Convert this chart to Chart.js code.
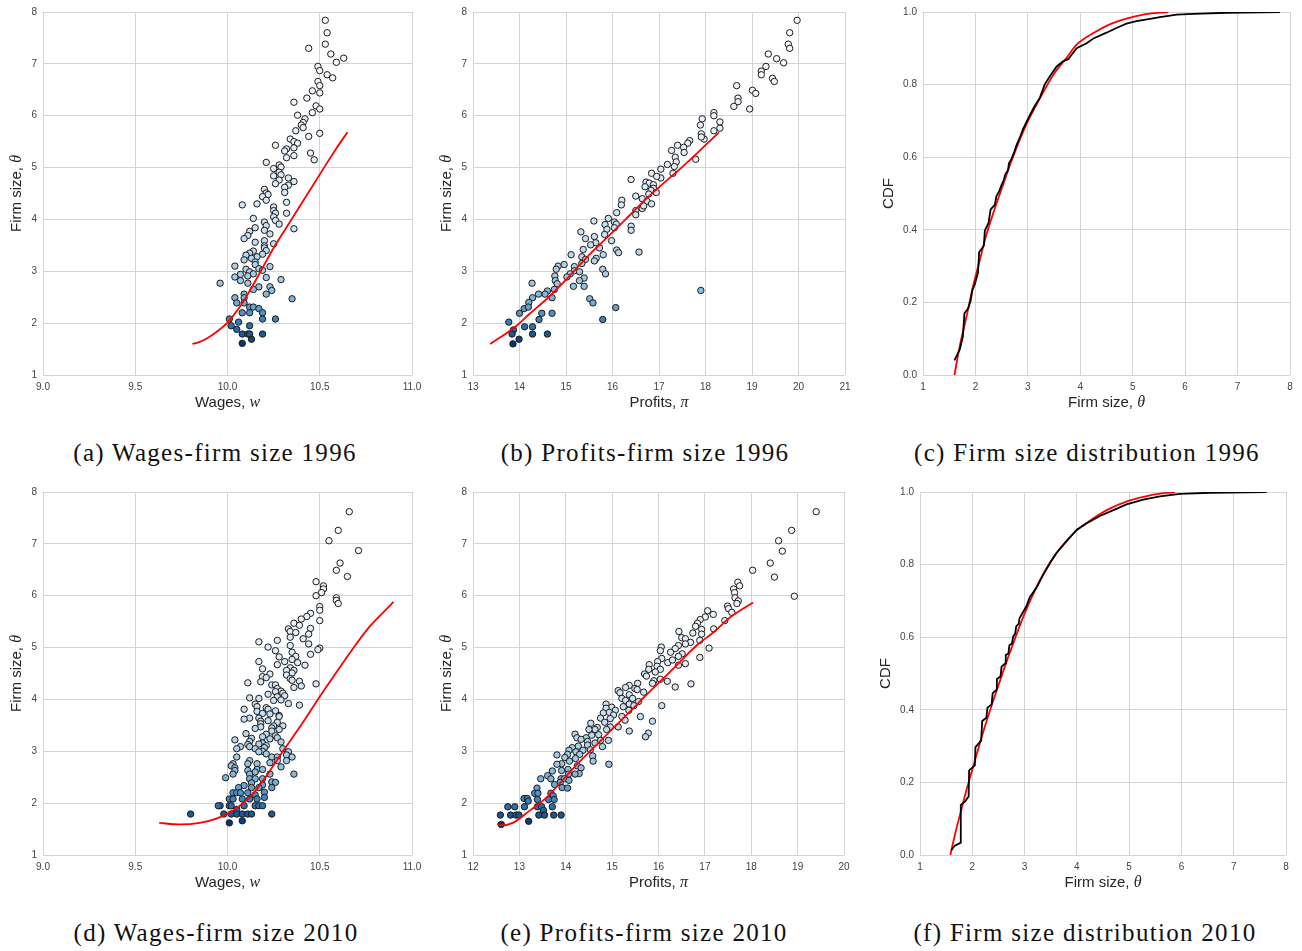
<!DOCTYPE html>
<html>
<head>
<meta charset="utf-8">
<script src="https://cdn.jsdelivr.net/npm/chart.js@4.4.1/dist/chart.umd.min.js"></script>
<style>
  body { margin: 0; background: #fff; width: 1302px; height: 951px; position: relative; overflow: hidden; }
  canvas { position: absolute; }
  .cap { position: absolute; font: 25px "Liberation Serif", serif; letter-spacing: 1.3px; line-height: 28px;
         white-space: nowrap; transform: translateX(-50%); color: #111; }
</style>
</head>
<body>
<script>
// ---- data ----
// (a) wages vs firm size 1996: [wage, size]
const wagesFirm1996 = [[10.53,7.84],[10.54,7.60],[10.53,7.38],[10.44,7.30],[10.56,7.19],[10.63,7.11],[10.59,7.03],[10.49,6.95],[10.50,6.87],[10.54,6.79],[10.57,6.73],[10.49,6.66],[10.50,6.58],[10.46,6.48],[10.50,6.44],[10.43,6.34],[10.36,6.26],[10.48,6.19],[10.50,6.13],[10.46,6.06],[10.38,6.01],[10.42,5.94],[10.41,5.87],[10.40,5.82],[10.41,5.77],[10.37,5.71],[10.50,5.66],[10.44,5.60],[10.34,5.55],[10.36,5.50],[10.38,5.47],[10.26,5.43],[10.36,5.38],[10.32,5.36],[10.31,5.32],[10.45,5.28],[10.36,5.23],[10.32,5.19],[10.47,5.15],[10.21,5.10],[10.28,5.05],[10.29,5.01],[10.25,4.98],[10.28,4.91],[10.29,4.86],[10.25,4.84],[10.33,4.80],[10.28,4.76],[10.36,4.73],[10.26,4.69],[10.33,4.66],[10.31,4.62],[10.20,4.58],[10.31,4.52],[10.21,4.51],[10.22,4.48],[10.19,4.44],[10.21,4.37],[10.32,4.33],[10.16,4.30],[10.08,4.28],[10.25,4.24],[10.25,4.17],[10.26,4.12],[10.32,4.12],[10.25,4.05],[10.14,4.02],[10.26,3.98],[10.20,3.95],[10.28,3.91],[10.21,3.88],[10.15,3.84],[10.36,3.82],[10.20,3.79],[10.12,3.77],[10.23,3.72],[10.11,3.69],[10.09,3.63],[10.20,3.59],[10.15,3.56],[10.25,3.53],[10.20,3.49],[10.20,3.45],[10.21,3.40],[10.14,3.39],[10.12,3.35],[10.19,3.33],[10.10,3.31],[10.16,3.28],[10.13,3.25],[10.09,3.22],[10.15,3.18],[10.15,3.13],[10.23,3.09],[10.04,3.10],[10.17,3.05],[10.10,3.04],[10.19,3.02],[10.12,2.99],[10.07,2.94],[10.14,2.95],[10.04,2.89],[10.11,2.91],[10.21,2.88],[10.07,2.82],[10.29,2.84],[9.96,2.77],[10.11,2.77],[10.23,2.70],[10.17,2.70],[10.14,2.65],[10.24,2.63],[10.21,2.56],[10.09,2.56],[10.04,2.49],[10.35,2.47],[10.09,2.49],[10.05,2.39],[10.09,2.39],[10.12,2.31],[10.14,2.31],[10.17,2.28],[10.08,2.20],[10.12,2.20],[10.19,2.20],[10.01,2.08],[10.19,2.08],[10.26,2.08],[10.06,2.02],[10.02,1.95],[10.12,1.95],[10.05,1.88],[10.08,1.79],[10.11,1.79],[10.12,1.79],[10.19,1.79],[10.13,1.69],[10.08,1.61]];
const wagesFit1996 = [[9.81,1.60],[9.85,1.64],[9.89,1.71],[9.94,1.83],[10.00,2.01],[10.03,2.14],[10.07,2.33],[10.11,2.56],[10.18,3.00],[10.25,3.45],[10.34,3.96],[10.43,4.47],[10.52,4.98],[10.59,5.37],[10.65,5.68]];

// (b) profits vs firm size 1996: [profit, size]
const profitsFirm1996 = [[19.97,7.84],[19.81,7.60],[19.78,7.38],[19.81,7.30],[19.35,7.19],[19.53,7.10],[19.68,7.02],[19.30,6.95],[19.20,6.86],[19.20,6.79],[19.44,6.72],[19.48,6.66],[18.67,6.58],[19.01,6.49],[19.08,6.43],[18.70,6.34],[18.70,6.27],[18.61,6.18],[18.95,6.13],[18.18,6.06],[18.18,6.00],[17.93,5.94],[18.31,5.88],[17.89,5.82],[18.31,5.76],[18.18,5.71],[17.91,5.65],[17.97,5.55],[17.91,5.59],[17.66,5.52],[17.62,5.47],[17.40,5.43],[17.53,5.39],[17.27,5.33],[17.54,5.29],[17.35,5.20],[17.79,5.16],[17.37,5.11],[17.18,5.06],[17.33,5.02],[17.04,4.97],[17.30,4.89],[16.84,4.89],[17.04,4.80],[16.95,4.83],[16.40,4.77],[16.72,4.72],[16.79,4.70],[16.88,4.67],[16.70,4.63],[16.88,4.60],[16.83,4.56],[16.94,4.52],[16.78,4.49],[16.50,4.45],[16.64,4.40],[16.20,4.37],[16.74,4.35],[16.84,4.30],[16.19,4.28],[16.64,4.21],[16.67,4.26],[16.50,4.17],[16.09,4.13],[16.50,4.09],[15.91,4.02],[15.60,3.97],[16.04,3.95],[16.08,3.91],[15.84,3.90],[16.40,3.87],[16.04,3.84],[15.88,3.81],[16.40,3.79],[15.32,3.76],[15.83,3.71],[15.61,3.67],[15.42,3.63],[15.98,3.59],[15.64,3.55],[15.53,3.51],[15.72,3.45],[15.37,3.42],[16.09,3.41],[16.57,3.37],[16.13,3.36],[15.11,3.32],[15.80,3.32],[15.34,3.28],[15.65,3.25],[15.42,3.23],[15.61,3.20],[15.34,3.15],[14.96,3.13],[14.83,3.10],[15.18,3.09],[14.79,3.04],[15.79,3.04],[15.18,3.01],[15.29,2.99],[15.09,2.95],[15.85,2.95],[14.76,2.91],[15.02,2.89],[15.39,2.87],[14.77,2.82],[15.29,2.82],[14.81,2.76],[14.27,2.77],[15.16,2.71],[15.39,2.71],[14.75,2.65],[14.60,2.62],[14.55,2.56],[14.41,2.56],[14.28,2.49],[14.70,2.49],[15.51,2.47],[14.20,2.40],[15.58,2.39],[17.90,2.63],[14.10,2.28],[14.19,2.31],[16.07,2.30],[14.00,2.19],[14.48,2.19],[14.70,2.19],[13.77,2.02],[14.42,2.07],[15.79,2.07],[14.11,1.93],[14.28,1.93],[13.87,1.87],[13.84,1.79],[14.28,1.79],[14.60,1.79],[13.99,1.69],[13.86,1.60]];
const profitsFit1996 = [[13.37,1.60],[13.66,1.77],[13.95,1.96],[14.23,2.19],[14.59,2.47],[14.95,2.79],[15.31,3.14],[15.66,3.46],[16.02,3.77],[16.38,4.09],[16.74,4.41],[17.10,4.70],[17.46,4.98],[17.81,5.27],[18.29,5.68]];

// (c) firm size distribution 1996: [size, cdf]
const sizeCdf1996 = [[1.60,0.040],[1.70,0.070],[1.76,0.106],[1.79,0.170],[1.86,0.183],[1.91,0.206],[1.94,0.233],[1.99,0.251],[2.05,0.283],[2.07,0.338],[2.16,0.356],[2.18,0.398],[2.25,0.419],[2.29,0.456],[2.37,0.469],[2.40,0.492],[2.45,0.505],[2.50,0.524],[2.54,0.537],[2.57,0.553],[2.62,0.564],[2.64,0.583],[2.69,0.596],[2.74,0.614],[2.78,0.632],[2.85,0.655],[2.91,0.678],[2.97,0.696],[3.05,0.719],[3.13,0.741],[3.23,0.764],[3.32,0.800],[3.42,0.823],[3.55,0.850],[3.67,0.864],[3.77,0.870],[3.93,0.900],[4.12,0.914],[4.25,0.927],[4.50,0.943],[4.69,0.956],[4.88,0.968],[5.07,0.975],[5.33,0.981],[5.52,0.986],[5.84,0.993],[6.16,0.995],[6.79,0.998],[7.81,1.000]];
const sizeFitCdf1996 = [[1.60,0.0],[1.70,0.079],[1.83,0.161],[1.95,0.242],[2.08,0.315],[2.21,0.387],[2.34,0.446],[2.53,0.525],[2.72,0.602],[2.97,0.690],[3.23,0.762],[3.48,0.826],[3.74,0.874],[3.93,0.910],[4.25,0.942],[4.56,0.966],[4.88,0.982],[5.20,0.993],[5.52,0.998],[5.68,1.0]];

// (d) wages vs firm size 2010
const wagesFirm2010 = [[10.66,7.62],[10.60,7.26],[10.55,7.06],[10.71,6.87],[10.61,6.63],[10.59,6.49],[10.65,6.37],[10.48,6.27],[10.52,6.19],[10.52,6.13],[10.51,6.06],[10.48,6.00],[10.59,5.96],[10.59,5.91],[10.60,5.85],[10.50,5.79],[10.50,5.72],[10.45,5.66],[10.43,5.60],[10.40,5.55],[10.50,5.52],[10.36,5.47],[10.39,5.43],[10.33,5.36],[10.45,5.37],[10.34,5.31],[10.37,5.29],[10.44,5.26],[10.34,5.20],[10.41,5.17],[10.27,5.14],[10.17,5.11],[10.44,5.07],[10.34,5.04],[10.22,5.01],[10.50,4.99],[10.49,4.96],[10.26,4.94],[10.35,4.91],[10.45,4.87],[10.28,4.82],[10.37,4.83],[10.35,4.77],[10.31,4.73],[10.17,4.73],[10.38,4.71],[10.27,4.67],[10.42,4.66],[10.34,4.61],[10.19,4.59],[10.32,4.56],[10.36,4.56],[10.35,4.51],[10.23,4.49],[10.32,4.47],[10.19,4.44],[10.34,4.40],[10.21,4.42],[10.35,4.37],[10.18,4.34],[10.39,4.35],[10.48,4.30],[10.11,4.32],[10.40,4.26],[10.36,4.23],[10.24,4.28],[10.26,4.28],[10.27,4.21],[10.29,4.16],[10.26,4.15],[10.30,4.12],[10.22,4.10],[10.27,4.05],[10.12,4.03],[10.31,4.07],[10.17,4.02],[10.29,3.99],[10.25,3.98],[10.33,3.92],[10.15,3.91],[10.39,3.89],[10.16,3.86],[10.21,3.84],[10.22,3.81],[10.09,3.81],[10.26,3.78],[10.16,3.77],[10.19,3.73],[10.23,3.72],[10.28,3.69],[10.28,3.67],[10.12,3.64],[10.17,3.64],[10.09,3.62],[10.22,3.59],[10.18,3.58],[10.27,3.56],[10.18,3.53],[10.30,3.49],[10.25,3.49],[10.18,3.47],[10.24,3.45],[10.15,3.44],[10.28,3.42],[10.10,3.34],[10.24,3.39],[10.21,3.33],[10.26,3.30],[10.19,3.28],[10.13,3.25],[10.27,3.26],[10.23,3.24],[10.04,3.22],[10.12,3.19],[10.29,3.18],[10.19,3.16],[10.17,3.14],[10.21,3.11],[10.11,3.13],[10.07,3.09],[10.12,3.09],[10.05,3.05],[10.20,3.07],[10.15,3.05],[10.30,3.05],[10.19,3.00],[10.17,2.99],[10.21,2.95],[10.33,2.99],[10.32,2.93],[10.24,2.89],[10.35,2.89],[10.27,2.89],[10.05,2.89],[10.12,2.82],[10.32,2.82],[10.11,2.76],[10.03,2.76],[10.16,2.76],[10.27,2.82],[10.23,2.78],[10.02,2.72],[10.04,2.68],[10.29,2.70],[10.04,2.63],[10.11,2.63],[10.16,2.65],[10.19,2.65],[10.15,2.60],[10.03,2.56],[10.23,2.56],[10.36,2.56],[10.12,2.56],[9.99,2.49],[10.12,2.47],[10.15,2.47],[10.19,2.47],[10.24,2.41],[10.26,2.40],[10.13,2.39],[10.19,2.35],[10.09,2.34],[10.24,2.30],[10.06,2.30],[10.13,2.30],[10.17,2.30],[10.03,2.20],[10.05,2.20],[10.07,2.20],[10.11,2.20],[10.20,2.21],[10.15,2.16],[10.20,2.11],[10.01,2.08],[10.03,2.08],[10.08,2.08],[10.12,2.08],[10.16,2.08],[9.96,1.95],[9.95,1.95],[10.01,1.95],[10.02,1.95],[10.09,1.95],[10.15,1.95],[10.17,1.95],[10.19,1.95],[10.05,1.88],[9.80,1.79],[9.98,1.79],[10.02,1.79],[10.05,1.79],[10.08,1.79],[10.11,1.79],[10.13,1.79],[10.24,1.79],[10.08,1.66],[10.01,1.62]];
const wagesFit2010 = [[9.63,1.62],[9.74,1.59],[9.85,1.62],[9.94,1.70],[10.03,1.86],[10.12,2.11],[10.21,2.52],[10.30,3.00],[10.40,3.51],[10.49,4.00],[10.58,4.47],[10.67,4.93],[10.76,5.36],[10.85,5.70],[10.90,5.88]];

// (e) profits vs firm size 2010
const profitsFirm2010 = [[19.40,7.62],[18.87,7.26],[18.59,7.06],[18.67,6.86],[18.41,6.63],[18.50,6.36],[18.03,6.49],[18.93,5.99],[17.71,6.26],[17.75,6.19],[17.62,6.13],[17.64,6.06],[17.65,5.96],[17.72,5.90],[17.69,5.85],[17.49,5.80],[17.51,5.75],[17.58,5.68],[17.06,5.71],[17.18,5.64],[17.43,5.52],[17.01,5.59],[16.90,5.54],[16.84,5.47],[16.80,5.41],[17.19,5.36],[16.93,5.35],[16.44,5.31],[16.93,5.26],[16.74,5.28],[16.50,5.19],[16.58,5.17],[16.89,5.14],[16.69,5.10],[16.58,5.07],[16.43,5.04],[16.06,5.01],[16.36,4.98],[16.04,4.94],[16.26,4.91],[16.51,4.88],[16.43,4.83],[17.09,4.99],[16.89,4.81],[16.07,4.79],[16.20,4.71],[16.30,4.76],[16.58,4.69],[16.43,4.66],[15.98,4.73],[15.80,4.67],[15.97,4.64],[16.04,4.58],[15.79,4.58],[15.93,4.53],[15.70,4.49],[15.74,4.45],[16.04,4.39],[15.90,4.36],[16.19,4.35],[15.87,4.31],[16.70,4.30],[15.55,4.31],[15.37,4.27],[16.36,4.24],[15.49,4.21],[15.29,4.23],[15.54,4.19],[15.13,4.17],[15.17,4.13],[15.68,4.14],[15.37,4.09],[15.21,4.02],[15.44,4.02],[15.29,3.98],[15.57,3.96],[15.37,3.91],[15.47,3.88],[16.07,3.88],[15.24,3.86],[14.87,3.91],[14.99,3.85],[15.36,3.79],[14.87,3.83],[15.07,3.79],[14.94,3.75],[14.81,3.74],[15.03,3.70],[15.21,3.67],[15.61,3.67],[15.28,3.60],[14.75,3.64],[14.96,3.63],[15.87,3.58],[14.84,3.56],[14.54,3.54],[14.68,3.46],[14.96,3.47],[15.13,3.47],[14.63,3.42],[14.50,3.42],[14.88,3.42],[15.37,3.39],[14.20,3.33],[15.78,3.35],[14.56,3.31],[14.71,3.32],[15.72,3.28],[14.24,3.26],[14.44,3.26],[14.92,3.21],[14.33,3.23],[14.75,3.21],[14.47,3.19],[14.63,3.16],[14.14,3.07],[14.27,3.10],[14.47,3.12],[14.79,3.09],[14.07,3.02],[14.37,3.02],[14.53,3.03],[14.22,2.99],[14.04,2.94],[14.30,2.94],[13.81,2.93],[14.58,2.91],[13.98,2.88],[14.21,2.86],[14.08,2.81],[14.59,2.81],[14.93,2.75],[13.91,2.76],[13.81,2.75],[14.25,2.72],[14.33,2.68],[14.05,2.65],[13.71,2.62],[13.91,2.63],[14.29,2.57],[13.61,2.53],[14.20,2.56],[14.06,2.56],[13.46,2.47],[13.68,2.47],[13.90,2.47],[13.97,2.47],[13.88,2.40],[13.76,2.36],[14.07,2.44],[13.92,2.30],[14.04,2.29],[13.38,2.29],[13.33,2.19],[13.40,2.19],[13.68,2.19],[13.73,2.14],[13.10,2.09],[13.17,2.09],[13.19,2.04],[13.39,2.07],[13.63,2.07],[13.75,2.07],[12.75,1.93],[12.90,1.93],[13.11,1.93],[13.39,1.93],[13.48,1.93],[13.71,1.93],[13.52,1.86],[12.59,1.77],[12.81,1.77],[12.93,1.77],[12.99,1.77],[13.42,1.77],[13.54,1.77],[13.74,1.77],[13.90,1.77],[13.20,1.65],[12.61,1.59]];
const profitsFit2010 = [[12.52,1.60],[12.62,1.57],[12.88,1.63],[13.23,1.86],[13.59,2.11],[13.95,2.46],[14.31,2.81],[14.67,3.13],[15.03,3.45],[15.39,3.77],[15.74,4.09],[16.10,4.40],[16.46,4.72],[16.82,5.04],[17.18,5.29],[17.54,5.58],[18.04,5.87]];

// (f) firm size distribution 2010
const sizeCdf2010 = [[1.60,0.013],[1.66,0.025],[1.78,0.034],[1.78,0.138],[1.86,0.147],[1.93,0.161],[1.94,0.233],[2.05,0.247],[2.06,0.297],[2.17,0.315],[2.19,0.369],[2.27,0.378],[2.29,0.406],[2.37,0.415],[2.39,0.446],[2.47,0.456],[2.47,0.485],[2.54,0.492],[2.56,0.519],[2.63,0.528],[2.64,0.551],[2.69,0.555],[2.71,0.578],[2.76,0.583],[2.78,0.601],[2.82,0.610],[2.84,0.630],[2.89,0.637],[2.90,0.651],[2.95,0.664],[3.04,0.687],[3.10,0.710],[3.23,0.737],[3.36,0.773],[3.49,0.805],[3.61,0.832],[3.80,0.864],[4.00,0.896],[4.19,0.914],[4.44,0.934],[4.70,0.950],[4.95,0.966],[5.27,0.979],[5.59,0.988],[5.97,0.995],[6.54,0.998],[7.63,1.0]];
const sizeFitCdf2010 = [[1.58,0.0],[1.70,0.075],[1.80,0.130],[1.90,0.185],[2.00,0.235],[2.20,0.335],[2.40,0.425],[2.60,0.510],[2.80,0.590],[3.00,0.665],[3.20,0.730],[3.40,0.785],[3.60,0.830],[3.80,0.865],[4.00,0.895],[4.30,0.926],[4.60,0.952],[5.00,0.976],[5.40,0.991],[5.88,1.0]];

// axis ranges / tick steps
const wageAxis = { min: 9, max: 11, step: 0.5, digits: 1 };
const profitAxis1996 = { min: 13, max: 21, step: 1, digits: 0 };
const profitAxis2010 = { min: 12, max: 20, step: 1, digits: 0 };
const sizeAxis = { min: 1, max: 8, step: 1, digits: 0 };
const cdfAxis = { min: 0, max: 1, step: 0.2, digits: 1 };

const captions = [
  '(a) Wages-firm size 1996', '(b) Profits-firm size 1996', '(c) Firm size distribution 1996',
  '(d) Wages-firm size 2010', '(e) Profits-firm size 2010', '(f) Firm size distribution 2010'
];

// ---- styling ----
const sansFont = '"Liberation Sans", Arial, sans-serif';
const mathFont = 'italic 16px "Liberation Serif", serif';
const blues = [[1.6,'#0b3367'],[1.8,'#1d5b99'],[2.1,'#3f86c1'],[2.4,'#74add6'],[2.8,'#a0c7e3'],[3.5,'#c3dbef'],[4.5,'#dce9f6'],[6,'#eff5fc'],[8,'#fbfdff']];

function hexRgb(h) { return [1, 3, 5].map(i => parseInt(h.substr(i, 2), 16)); }
function sizeColour(v) {
  if (v <= blues[0][0]) return blues[0][1];
  for (let i = 1; i < blues.length; i++) {
    if (v <= blues[i][0]) {
      const t = (v - blues[i - 1][0]) / (blues[i][0] - blues[i - 1][0]);
      const a = hexRgb(blues[i - 1][1]), b = hexRgb(blues[i][1]);
      return 'rgb(' + a.map((c, k) => Math.round(c + (b[k] - c) * t)).join(',') + ')';
    }
  }
  return blues[blues.length - 1][1];
}

const toXY = arr => arr.map(([x, y]) => ({ x, y }));

function scatterSet(arr) {
  return {
    data: toXY(arr), pointRadius: 3.2, borderWidth: 1, borderColor: '#1a1a1a',
    backgroundColor: ctx => sizeColour(ctx.raw ? ctx.raw.y : 8)
  };
}
function lineSet(arr, colour, smooth) {
  return {
    data: toXY(arr), showLine: true, pointRadius: 0, borderColor: colour, borderWidth: 1.8,
    fill: false, cubicInterpolationMode: smooth ? 'monotone' : 'default', tension: 0
  };
}

// draws axis titles with an italic math symbol at the end
const axisTitles = {
  id: 'axisTitles',
  afterDraw(chart, args, o) {
    const ctx = chart.ctx, a = chart.chartArea;
    const drawParts = (parts, cx, cy) => {
      let w = 0;
      parts.forEach(p => { ctx.font = p[1] ? mathFont : '15px ' + sansFont; w += ctx.measureText(p[0]).width; });
      let x = cx - w / 2;
      parts.forEach(p => {
        ctx.font = p[1] ? mathFont : '15px ' + sansFont;
        ctx.fillText(p[0], x, cy);
        x += ctx.measureText(p[0]).width;
      });
    };
    ctx.save();
    ctx.fillStyle = '#262626';
    ctx.textBaseline = 'middle';
    ctx.textAlign = 'left';
    drawParts(o.x, (a.left + a.right) / 2, o.xTitleY);
    ctx.translate(o.yTitleX, (a.top + a.bottom) / 2);
    ctx.rotate(-Math.PI / 2);
    drawParts(o.y, 0, 0);
    ctx.restore();
  }
};

function axis(ax, fit) {
  return {
    type: 'linear', min: ax.min, max: ax.max, afterFit: fit,
    ticks: {
      stepSize: ax.step, autoSkip: false, maxRotation: 0, padding: 6, color: '#444',
      font: { family: sansFont, size: 10 },
      callback: v => Number(v).toFixed(ax.digits)
    },
    grid: { color: '#d4d4d4', lineWidth: 1, drawTicks: false },
    border: { display: false }
  };
}

function makeChart(box, area, xAx, yAx, datasets, titles) {
  const cv = document.createElement('canvas');
  cv.width = box[2]; cv.height = box[3];
  cv.style.left = box[0] + 'px'; cv.style.top = box[1] + 'px';
  document.body.appendChild(cv);
  const yW = area[0] - box[0], xH = box[1] + box[3] - area[3];
  new Chart(cv, {
    type: 'scatter',
    data: { datasets },
    options: {
      animation: false, responsive: false, devicePixelRatio: 1, events: [],
      layout: { padding: { left: 0, top: area[1] - box[1], right: box[0] + box[2] - area[2], bottom: 0 } },
      plugins: { legend: { display: false }, tooltip: { enabled: false }, axisTitles: titles },
      scales: {
        x: axis(xAx, s => { s.height = xH; }),
        y: axis(yAx, s => { s.width = yW; })
      }
    },
    plugins: [axisTitles]
  });
}

const sizeTitle = [['Firm size, ', false], ['\u03b8', true]];
const wageTitle = [['Wages, ', false], ['w', true]];
const profitTitle = [['Profits, ', false], ['\u03c0', true]];
const cdfTitle = [['CDF', false]];

makeChart([0, 0, 430, 420], [43, 8, 412, 375], wageAxis, sizeAxis,
  [lineSet(wagesFit1996, '#ff0000', true), scatterSet(wagesFirm1996)],
  { x: wageTitle, y: sizeTitle, xTitleY: 403, yTitleX: 17 });
makeChart([430, 0, 430, 420], [473, 8, 845, 375], profitAxis1996, sizeAxis,
  [lineSet(profitsFit1996, '#ff0000', true), scatterSet(profitsFirm1996)],
  { x: profitTitle, y: sizeTitle, xTitleY: 403, yTitleX: 17 });
makeChart([860, 0, 442, 420], [923, 8, 1290, 375], sizeAxis, cdfAxis,
  [lineSet(sizeCdf1996, '#000000', false), lineSet(sizeFitCdf1996, '#ff0000', true)],
  { x: sizeTitle, y: cdfTitle, xTitleY: 403, yTitleX: 29 });
makeChart([0, 480, 430, 420], [43, 488, 412, 855], wageAxis, sizeAxis,
  [lineSet(wagesFit2010, '#ff0000', true), scatterSet(wagesFirm2010)],
  { x: wageTitle, y: sizeTitle, xTitleY: 403, yTitleX: 17 });
makeChart([430, 480, 430, 420], [473, 488, 844, 855], profitAxis2010, sizeAxis,
  [lineSet(profitsFit2010, '#ff0000', true), scatterSet(profitsFirm2010)],
  { x: profitTitle, y: sizeTitle, xTitleY: 403, yTitleX: 17 });
makeChart([860, 480, 442, 420], [920, 488, 1286, 855], sizeAxis, cdfAxis,
  [lineSet(sizeCdf2010, '#000000', false), lineSet(sizeFitCdf2010, '#ff0000', true)],
  { x: sizeTitle, y: cdfTitle, xTitleY: 403, yTitleX: 26 });

// captions under each panel
const capCentres = [[215, 439], [645, 439], [1087, 439], [216, 919], [644, 919], [1085, 919]];
captions.forEach((t, i) => {
  const d = document.createElement('div');
  d.className = 'cap';
  d.textContent = t;
  d.style.left = capCentres[i][0] + 'px';
  d.style.top = capCentres[i][1] + 'px';
  document.body.appendChild(d);
});
</script>
</body>
</html>
